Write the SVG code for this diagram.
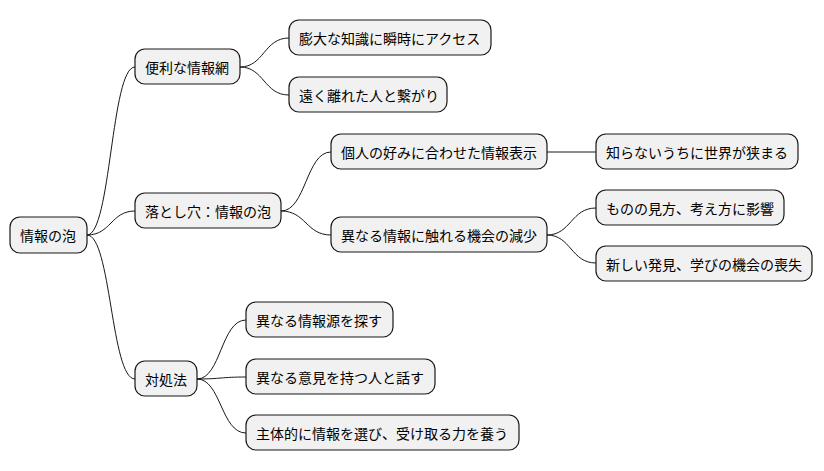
<svg xmlns="http://www.w3.org/2000/svg" width="824" height="471" viewBox="0 0 824 471">
<style>
.n rect{fill:#F1F1F1;stroke:#181818;stroke-width:1.2}
.n text{font-family:"Noto Sans CJK JP","Noto Sans CJK SC",sans-serif;font-size:14px;fill:#000;dominant-baseline:central}
#c path{fill:none;stroke:#181818;stroke-width:1}
</style>
<rect width="824" height="471" fill="#fff"/>
<g id="c">
<path d="M87 235 C111 235 111 67 135 67"/>
<path d="M87 235 C111 235 111 211 135 211"/>
<path d="M87 235 C111 235 111 379 135 379"/>
<path d="M240 67 C264 67 264 38 289 38"/>
<path d="M240 67 C264 67 264 95 289 95"/>
<path d="M281 211 C306 211 306 152 331 152"/>
<path d="M281 211 C306 211 306 235 331 235"/>
<path d="M547 152 L596 152"/>
<path d="M547 235 C571 235 571 208 596 208"/>
<path d="M547 235 C571 235 571 263 596 263"/>
<path d="M197 379 C221 379 221 320 246 320"/>
<path d="M197 379 C221 379 221 377 246 377"/>
<path d="M197 379 C221 379 221 433 246 433"/>
</g>
<g id="n0" class="n"><rect x="10" y="217" width="77" height="36" rx="10"/><text x="20" y="235">情報の泡</text></g>
<g id="n1" class="n"><rect x="135" y="49" width="105" height="35" rx="10"/><text x="145" y="67">便利な情報網</text></g>
<g id="n2" class="n"><rect x="135" y="193" width="146" height="35" rx="10"/><text x="145" y="211">落とし穴：情報の泡</text></g>
<g id="n3" class="n"><rect x="135" y="361" width="62" height="35" rx="10"/><text x="145" y="379">対処法</text></g>
<g id="n4" class="n"><rect x="289" y="20" width="202" height="35" rx="10"/><text x="299" y="38">膨大な知識に瞬時にアクセス</text></g>
<g id="n5" class="n"><rect x="289" y="77" width="158" height="35" rx="10"/><text x="299" y="95">遠く離れた人と繋がり</text></g>
<g id="n6" class="n"><rect x="331" y="134" width="216" height="35" rx="10"/><text x="341" y="152">個人の好みに合わせた情報表示</text></g>
<g id="n7" class="n"><rect x="331" y="217" width="216" height="35" rx="10"/><text x="341" y="235">異なる情報に触れる機会の減少</text></g>
<g id="n8" class="n"><rect x="596" y="134" width="202" height="35" rx="10"/><text x="606" y="152">知らないうちに世界が狭まる</text></g>
<g id="n9" class="n"><rect x="596" y="190" width="188" height="35" rx="10"/><text x="606" y="208">ものの見方、考え方に影響</text></g>
<g id="n10" class="n"><rect x="596" y="246" width="216" height="35" rx="10"/><text x="606" y="264">新しい発見、学びの機会の喪失</text></g>
<g id="n11" class="n"><rect x="246" y="302" width="147" height="35" rx="10"/><text x="256" y="320">異なる情報源を探す</text></g>
<g id="n12" class="n"><rect x="246" y="359" width="189" height="35" rx="10"/><text x="256" y="377">異なる意見を持つ人と話す</text></g>
<g id="n13" class="n"><rect x="246" y="415" width="273" height="35" rx="10"/><text x="256" y="433">主体的に情報を選び、受け取る力を養う</text></g>
</svg>
